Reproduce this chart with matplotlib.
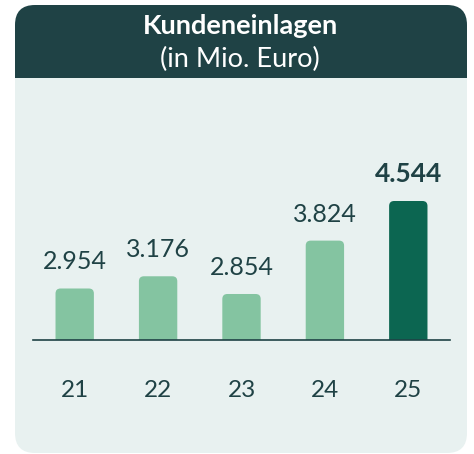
import matplotlib
matplotlib.use("Agg")
import matplotlib.pyplot as plt
from matplotlib.patches import FancyBboxPatch, Rectangle

categories = ["21", "22", "23", "24", "25"]
values = [2954, 3176, 2854, 3824, 4544]
labels = ["2.954", "3.176", "2.854", "3.824", "4.544"]
title = "Kundeneinlagen"
subtitle = "(in Mio. Euro)"

W, H = 474, 454
DPI = 100
LIGHT = "#84c4a1"
DARK_BAR = "#0c6651"
TEXT = "#1f4245"
HEADER = "#1f4245"
PANEL = "#e8f1f0"
FONT = "Lato"

fig = plt.figure(figsize=(W / DPI, H / DPI), dpi=DPI)
fig.patch.set_facecolor("white")

def fx(px):
    return px / W

def fy(py):
    return 1 - py / H

# panel
px0, px1, py0, py1 = 15, 467, 5, 453
r = 20
panel = FancyBboxPatch((fx(px0), fy(py1)), fx(px1 - px0), (py1 - py0) / H,
                       boxstyle=f"round,pad=0,rounding_size={r / W}",
                       mutation_aspect=W / H, transform=fig.transFigure,
                       facecolor=PANEL, edgecolor="none", zorder=0)
fig.add_artist(panel)
header = FancyBboxPatch((fx(px0), fy(110)), fx(px1 - px0), (110 - py0) / H,
                        boxstyle=f"round,pad=0,rounding_size={r / W}",
                        mutation_aspect=W / H, transform=fig.transFigure,
                        facecolor=HEADER, edgecolor="none", zorder=1)
fig.add_artist(header)
cover = Rectangle((fx(px0), fy(110)), fx(px1 - px0), (110 - 78) / H,
                  transform=fig.transFigure, facecolor=PANEL, edgecolor="none", zorder=2)
fig.add_artist(cover)

fig.text(fx(240), fy(26), title, ha="center", va="center", color="white",
         fontsize=19.5, fontweight="bold", family=FONT, zorder=3)
fig.text(fx(240), fy(59), subtitle, ha="center", va="center", color="white",
         fontsize=19.5, family=FONT, zorder=3)

# axes
ax_l, ax_r, ax_b, ax_t = 33, 450, 340, 150
ax = fig.add_axes([fx(ax_l), fy(ax_b), fx(ax_r - ax_l), (ax_b - ax_t) / H])
ax.set_facecolor("none")
ax.set_zorder(5)
ymin = 2018
ymax = ymin + (ax_b - ax_t) / 0.05503
ax.set_xlim(-0.5, 4.5)
ax.set_ylim(ymin, ymax)

x = list(range(len(categories)))
bw = 0.46
colors = [LIGHT] * (len(values) - 1) + [DARK_BAR]
bars = ax.bar(x, values, width=bw, color=colors)
px_per_x = (ax_r - ax_l) / 5.0
px_per_y = 0.05503
rad_px = 5
for b, c in zip(bars, colors):
    x0 = b.get_x()
    top = b.get_height()
    b.remove()
    bot = ymin - 500
    rs = rad_px / px_per_x
    p = FancyBboxPatch((x0, bot), bw, top - bot,
                       boxstyle=f"round,pad=0,rounding_size={rs}",
                       mutation_aspect=(rad_px / px_per_y) / rs,
                       facecolor=c, edgecolor="none", clip_on=True)
    ax.add_patch(p)
    p.set_clip_path(ax.patch)

for i, (v, lab) in enumerate(zip(values, labels)):
    last = i == len(values) - 1
    ax.annotate(lab, (i, v), xytext=(0, 13.7), textcoords="offset points",
                ha="center", va="baseline", color=TEXT, family=FONT,
                fontsize=19 if last else 18, fontweight="bold" if last else "normal",
                annotation_clip=False)

for s in ["top", "right", "left"]:
    ax.spines[s].set_visible(False)
ax.spines["bottom"].set_color(TEXT)
ax.spines["bottom"].set_linewidth(1.2)
ax.set_yticks([])
ax.set_xticks(x)
ax.set_xticklabels(categories, family=FONT, fontsize=17.5, color=TEXT)
ax.tick_params(axis="x", length=0, pad=29)

fig.savefig("out.png", dpi=DPI, facecolor="white")
